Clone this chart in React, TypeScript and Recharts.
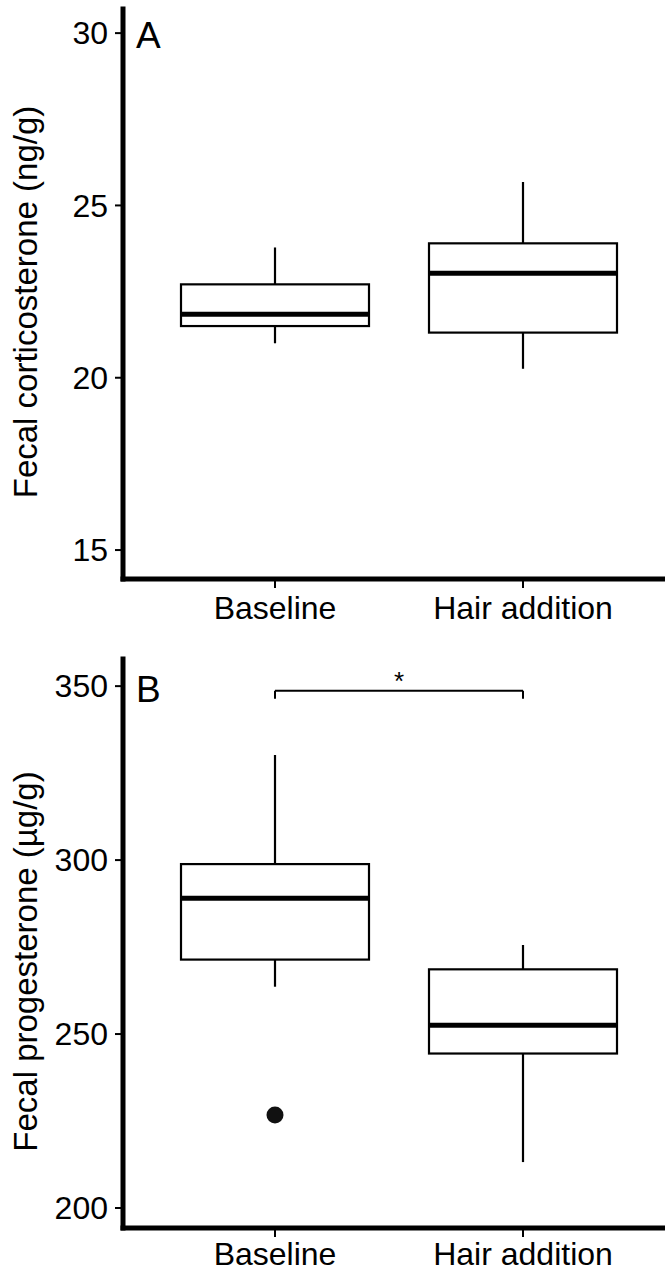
import React from 'react';
import {
  ComposedChart,
  Bar,
  Scatter,
  XAxis,
  YAxis,
  ReferenceLine,
} from 'recharts';

const FONT = '"Liberation Sans", Arial, Helvetica, sans-serif';

const groups = ['Baseline', 'Hair addition'];

// A: fecal corticosterone (ng/g)
const corticoMin = [21.0, 20.26];
const corticoQ1 = [21.5, 21.31];
const corticoMedian = [21.84, 23.03];
const corticoQ3 = [22.71, 23.9];
const corticoMax = [23.78, 25.68];
const corticoTicks = [15, 20, 25, 30];

// B: fecal progesterone (µg/g)
const progMin = [263.6, 213.2];
const progQ1 = [271.4, 244.4];
const progMedian = [289.0, 252.5];
const progQ3 = [298.85, 268.6];
const progMax = [330.2, 275.6];
const progOutliers: number[][] = [[226.7], []];
const progTicks = [200, 250, 300, 350];

// significance bracket in B
const bracketLevel = 348.7;
const bracketTip = 346.4;
const bracketLabel = '*';

function buildRows(mins: number[], q1: number[], med: number[], q3: number[], maxs: number[]) {
  return groups.map((g, i) => ({
    group: g,
    range: [mins[i], maxs[i]],
    min: mins[i],
    q1: q1[i],
    median: med[i],
    q3: q3[i],
    max: maxs[i],
  }));
}

function buildOutliers(list: number[][]) {
  const out: { group: string; outlier: number }[] = [];
  list.forEach((vals, i) => vals.forEach((v) => out.push({ group: groups[i], outlier: v })));
  return out;
}

// box drawn inside the bar's [min, max] extent
function BoxShape(props: any) {
  const { x, y, width, height, payload } = props;
  const top = Math.min(y, y + height);
  const bottom = Math.max(y, y + height);
  const span = payload.max - payload.min;
  const py = (v: number) => bottom - ((v - payload.min) / span) * (bottom - top);
  const cx = x + width / 2;
  return (
    <g>
      <line x1={cx} x2={cx} y1={py(payload.max)} y2={py(payload.q3)} stroke="#000" strokeWidth={2.2} />
      <line x1={cx} x2={cx} y1={py(payload.q1)} y2={py(payload.min)} stroke="#000" strokeWidth={2.2} />
      <rect
        x={x}
        y={py(payload.q3)}
        width={width}
        height={py(payload.q1) - py(payload.q3)}
        fill="#fff"
        stroke="#000"
        strokeWidth={2.2}
      />
      <line x1={x} x2={x + width} y1={py(payload.median)} y2={py(payload.median)} stroke="#000" strokeWidth={5} />
    </g>
  );
}

function AxisTitle(props: any) {
  const { viewBox, text, shift } = props;
  const cx = 37;
  const cy = viewBox.y + viewBox.height / 2 + (shift || 0);
  return (
    <text
      x={cx}
      y={cy}
      transform={`rotate(-90, ${cx}, ${cy})`}
      textAnchor="middle"
      fontSize={33}
      fontFamily={FONT}
      fill="#000"
    >
      {text}
    </text>
  );
}

const axisLine = { stroke: '#000', strokeWidth: 5, strokeLinecap: 'square' as const };
const tickStyle = { fill: '#000', fontSize: 32, fontFamily: FONT };

interface PanelProps {
  rows: any[];
  outliers: { group: string; outlier: number }[];
  domain: [number, number];
  ticks: number[];
  title: string;
  titleShift: number;
  height: number;
  xAxisHeight: number;
  xTickMargin: number;
  bracket?: boolean;
}

function BoxPanel({ rows, outliers, domain, ticks, title, titleShift, height, xAxisHeight, xTickMargin, bracket }: PanelProps) {
  return (
    <ComposedChart
      width={700}
      height={height}
      data={rows}
      margin={{ top: 9, right: 25, bottom: 0, left: 0 }}
    >
      <XAxis
        dataKey="group"
        type="category"
        allowDuplicatedCategory={false}
        height={xAxisHeight}
        padding={{ left: 28, right: 28 }}
        axisLine={axisLine}
        tickLine={{ stroke: '#000', strokeWidth: 2 }}
        tickSize={9}
        tickMargin={xTickMargin}
        tick={tickStyle}
        interval={0}
      />
      <XAxis
        xAxisId="top"
        orientation="top"
        dataKey="group"
        type="category"
        allowDuplicatedCategory={false}
        height={0}
        axisLine={axisLine}
        tick={false}
        tickLine={false}
      />
      <YAxis
        type="number"
        domain={domain}
        ticks={ticks}
        width={123}
        axisLine={axisLine}
        tickLine={{ stroke: '#000', strokeWidth: 2 }}
        tickSize={8}
        tickMargin={7}
        tick={tickStyle}
        allowDataOverflow
        label={<AxisTitle text={title} shift={titleShift} />}
      />
      <Bar dataKey="range" barSize={188} shape={BoxShape} isAnimationActive={false} />
      {outliers.length > 0 && (
        <Scatter
          data={outliers}
          dataKey="outlier"
          isAnimationActive={false}
          shape={(p: any) => <circle cx={p.cx} cy={p.cy} r={8.5} fill="#111" />}
        />
      )}
      {bracket && (
        <ReferenceLine
          segment={[
            { x: groups[0], y: bracketLevel },
            { x: groups[1], y: bracketLevel },
          ]}
          stroke="#000"
          strokeWidth={2}
          label={{ value: bracketLabel, position: 'top', offset: 1, fontSize: 26, fontFamily: FONT, fill: '#000' }}
        />
      )}
      {bracket && (
        <ReferenceLine
          segment={[
            { x: groups[0], y: bracketLevel },
            { x: groups[0], y: bracketTip },
          ]}
          stroke="#000"
          strokeWidth={2}
        />
      )}
      {bracket && (
        <ReferenceLine
          segment={[
            { x: groups[1], y: bracketLevel },
            { x: groups[1], y: bracketTip },
          ]}
          stroke="#000"
          strokeWidth={2}
        />
      )}
    </ComposedChart>
  );
}

export default function App() {
  const rowsA = buildRows(corticoMin, corticoQ1, corticoMedian, corticoQ3, corticoMax);
  const rowsB = buildRows(progMin, progQ1, progMedian, progQ3, progMax);
  return (
    <div
      style={{
        position: 'absolute',
        left: 0,
        top: 0,
        width: 665,
        height: 1272,
        overflow: 'hidden',
        background: '#fff',
      }}
    >
      <div style={{ position: 'absolute', left: 0, top: 0 }}>
        <BoxPanel
          rows={rowsA}
          outliers={[]}
          domain={[14.16, 30.7]}
          ticks={corticoTicks}
          title="Fecal corticosterone (ng/g)"
          titleShift={8}
          height={640}
          xAxisHeight={61}
          xTickMargin={8}
        />
      </div>
      <div style={{ position: 'absolute', left: 0, top: 650 }}>
        <BoxPanel
          rows={rowsB}
          outliers={buildOutliers(progOutliers)}
          domain={[194.25, 357.8]}
          ticks={progTicks}
          title="Fecal progesterone (µg/g)"
          titleShift={18}
          height={622}
          xAxisHeight={44}
          xTickMargin={5}
          bracket
        />
      </div>
      <svg
        width={665}
        height={1272}
        style={{ position: 'absolute', left: 0, top: 0, pointerEvents: 'none' }}
      >
        <text x={136} y={48} fontSize={37} fontFamily={FONT} fill="#000">A</text>
        <text x={136} y={702} fontSize={37} fontFamily={FONT} fill="#000">B</text>
      </svg>
    </div>
  );
}
